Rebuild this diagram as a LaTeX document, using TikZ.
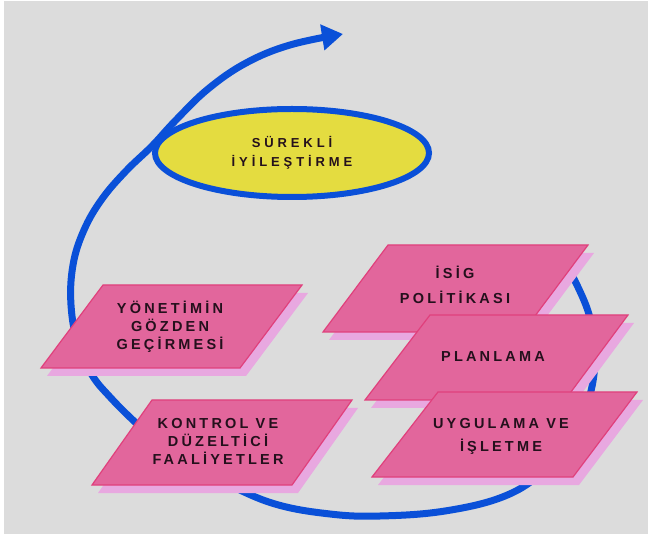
\documentclass[tikz,border=0pt]{standalone}
\usepackage{fontspec}
\newfontfamily\lblfont[LetterSpace=22]{Liberation Sans Bold}
\newfontfamily\ellfont[LetterSpace=30]{Liberation Sans Bold}
\usetikzlibrary{arrows.meta,shapes.geometric}
\definecolor{bg}{HTML}{DCDCDC}
\definecolor{spiral}{HTML}{0A50D8}
\definecolor{yel}{HTML}{E4DC40}
\definecolor{pinkfill}{HTML}{E2669C}
\definecolor{pinkline}{HTML}{E0407C}
\definecolor{lilac}{HTML}{E8A8E0}
\definecolor{txt}{HTML}{24101C}
\begin{document}
\begin{tikzpicture}[x=1pt,y=-1pt,
  paraface/.style={fill=pinkfill, draw=pinkline, line width=1.2pt, line join=miter},
  parashadow/.style={fill=lilac},
  lbl/.style={font=\lblfont\fontsize{14.5}{18}\selectfont, text=txt, align=center, inner sep=0pt},
  loopline/.style={draw=spiral, line width=7pt, line cap=round}
]
\useasboundingbox (0,0) rectangle (648,534);
\fill[white] (0,0) rectangle (648,534);
\fill[bg] (4,1) rectangle (648,534);

% spiral
\draw[loopline, -{Triangle[width=25pt,length=21pt]}] plot[smooth, tension=0.65] coordinates {(562,258) (577,285) (590,318) (595,355) (590,395) (574,435) (545,470) (505,496) (445,511) (380,516) (330,514) (275,504) (225,483) (175,458) (136,423) (110,397) (92,375) (78,345) (71,305) (73,265) (84,230) (102,199) (126,171) (152,146) (176,120) (208,89) (246,63) (290,45) (343,34)};

% ellipse
\node[ellipse, draw=spiral, line width=6pt, fill=yel, minimum width=274pt, minimum height=88pt, inner sep=0pt] (cont) at (292,153) {};
\node[lbl, font=\ellfont\fontsize{13}{19}\selectfont] (conttxt) at (292,153) {SÜREKLİ\\İYİLEŞTİRME};

% YONETIM
\begin{scope}[shift={(6,8)}]
\fill[parashadow] (103,285)--(302,285)--(240,368)--(41,368)--cycle;
\end{scope}
\filldraw[paraface] (103,285)--(302,285)--(240,368)--(41,368)--cycle;
\node[lbl] (yon) at (170,327) {YÖNETİMİN\\GÖZDEN\\GEÇİRMESİ};

% KONTROL
\begin{scope}[shift={(6,8)}]
\fill[parashadow] (152,400)--(352,400)--(292,485)--(92,485)--cycle;
\end{scope}
\filldraw[paraface] (152,400)--(352,400)--(292,485)--(92,485)--cycle;
\node[lbl] (kon) at (218,441) {KONTROL VE\\DÜZELTİCİ\\FAALİYETLER};

% ISIG
\begin{scope}[shift={(6,8)}]
\fill[parashadow] (388,245)--(588,245)--(523,332)--(323,332)--cycle;
\end{scope}
\filldraw[paraface] (388,245)--(588,245)--(523,332)--(323,332)--cycle;
\node[lbl, font=\lblfont\fontsize{14.5}{25}\selectfont] (isg) at (455,285) {İSİG\\POLİTİKASI};

% PLANLAMA
\begin{scope}[shift={(6,8)}]
\fill[parashadow] (430,315)--(628,315)--(565,400)--(365,400)--cycle;
\end{scope}
\filldraw[paraface] (430,315)--(628,315)--(565,400)--(365,400)--cycle;
\node[lbl] (plan) at (493,357) {PLANLAMA};

% UYGULAMA
\begin{scope}[shift={(6,8)}]
\fill[parashadow] (438,392)--(637,392)--(573,477)--(372,477)--cycle;
\end{scope}
\filldraw[paraface] (438,392)--(637,392)--(573,477)--(372,477)--cycle;
\node[lbl, font=\lblfont\fontsize{14.5}{23}\selectfont] (uyg) at (501,436) {UYGULAMA VE\\İŞLETME};
\end{tikzpicture}
\end{document}
